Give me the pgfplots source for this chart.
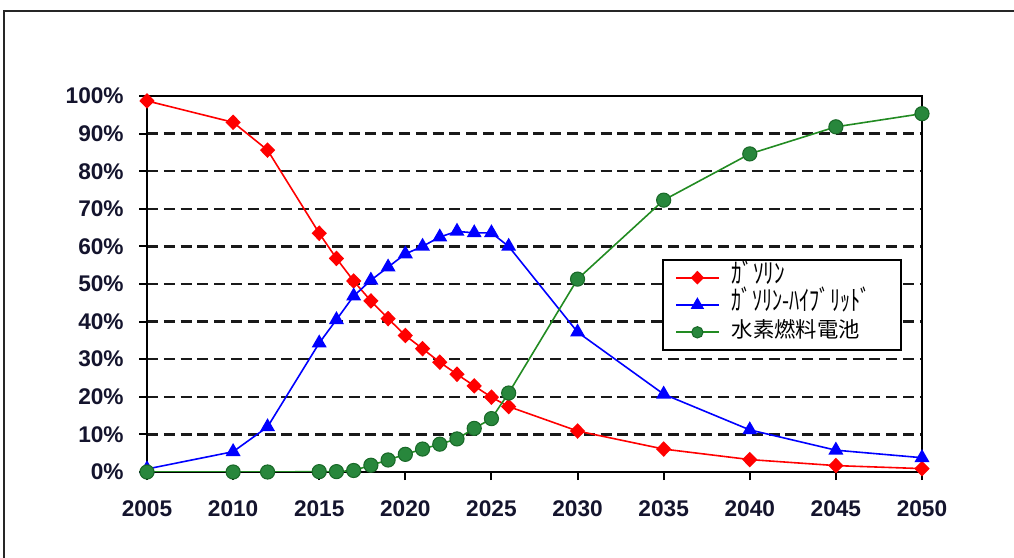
\documentclass[border=0pt]{standalone}
\usepackage{fontspec}
\setmainfont{Liberation Sans}
\newfontfamily\jp{Noto Sans CJK JP}
\usepackage{pgfplots}
\usepackage{pgfplotstable}
\pgfplotsset{compat=1.18}
\definecolor{gline}{RGB}{34,139,34}
\definecolor{gfill}{RGB}{40,135,60}
\definecolor{gdraw}{RGB}{25,105,40}
\definecolor{ticktext}{RGB}{20,20,45}

\pgfplotstableread{
year val
2005 98.7
2010 93
2012 85.6
2015 63.5
2016 56.8
2017 50.8
2018 45.5
2019 40.8
2020 36.3
2021 32.8
2022 29.2
2023 26
2024 22.9
2025 19.9
2026 17.4
2030 10.9
2035 6.1
2040 3.3
2045 1.7
2050 0.9
}\gasoline

\pgfplotstableread{
year val
2005 0.8
2010 5.4
2012 12
2015 34.3
2016 40.5
2017 46.8
2018 51
2019 54.5
2020 58
2021 60
2022 62.5
2023 64
2024 63.6
2025 63.6
2026 60
2030 37.2
2035 20.7
2040 11.2
2045 5.8
2050 3.8
}\hybrid

\pgfplotstableread{
year val
2005 0
2010 0
2012 0
2015 0.1
2016 0.1
2017 0.4
2018 1.8
2019 3.2
2020 4.7
2021 6.1
2022 7.4
2023 8.8
2024 11.6
2025 14.2
2026 21
2030 51.3
2035 72.3
2040 84.6
2045 91.8
2050 95.3
}\fuelcell

\begin{document}
\begin{tikzpicture}[x=0.75pt,y=0.75pt]
\useasboundingbox (0,0) rectangle (1014,557);
\draw[line width=1.5pt, black!85] (4,-10) -- (4,546) -- (1030,546);
\begin{axis}[
  at={(110.25pt,63.75pt)}, anchor=south west,
  scale only axis, width=581.25pt, height=282pt,
  xmin=2005, xmax=2050, ymin=0, ymax=100,
  xtick={2005,2010,...,2050}, ytick={0,10,...,100},
  xtick pos=bottom, ytick pos=left,
  tick align=outside, major tick length=6pt,
  tick style={line width=1.5pt, black},
  axis line style={line width=1.5pt, black},
  ymajorgrids,
  major grid style={line width=1.9pt, black!90, dash pattern=on 8.3pt off 4.3pt},
  /pgf/number format/assume math mode=true,
  /pgf/number format/1000 sep={},
  tick label style={font=\fontsize{17}{20}\selectfont\bfseries, text=ticktext},
  yticklabel={\pgfmathprintnumber{\tick}\%},
  yticklabel style={xshift=-8pt},
  xticklabel style={yshift=-12pt},
  legend cell align=left,
  legend style={at={(0.6645,0.5665)}, anchor=north west, draw=black, line width=1.5pt,
    font=\jp\fontsize{16}{20}\selectfont, row sep=0pt,
    nodes={inner ysep=1pt, text height=13.5pt, text depth=5pt},
    inner xsep=9pt, inner ysep=3pt},
  legend image code/.code={
    \draw[mark repeat=2,mark phase=2,#1, line width=1.6pt, every mark/.append style={scale=0.8}] plot coordinates {(0pt,0pt) (16pt,0pt) (32pt,0pt)};},
]
\addplot[red, line width=1.2pt, mark=diamond*, mark size=5pt, mark options={fill=red, draw=red, xscale=1.3}]
  table[x=year, y=val] {\gasoline};
\addlegendentry{\hspace{7pt}\makebox[116pt][l]{\scalebox{1}[1.3]{ｶﾞｿﾘﾝ}}}
\addplot[blue, line width=1.2pt, mark=triangle*, mark size=5.3pt, mark options={fill=blue, draw=blue}]
  table[x=year, y=val] {\hybrid};
\addlegendentry{\hspace{7pt}\makebox[116pt][l]{\scalebox{0.95}[1.3]{ｶﾞｿﾘﾝ-ﾊｲﾌﾞﾘｯﾄﾞ}}}
\addplot[gline, line width=1.2pt, mark=*, mark size=5.3pt, mark options={fill=gfill, draw=gdraw, line width=0.8pt}]
  table[x=year, y=val] {\fuelcell};
\addlegendentry{\hspace{7pt}\makebox[116pt][l]{水素燃料電池}}
\end{axis}
\end{tikzpicture}
\end{document}
